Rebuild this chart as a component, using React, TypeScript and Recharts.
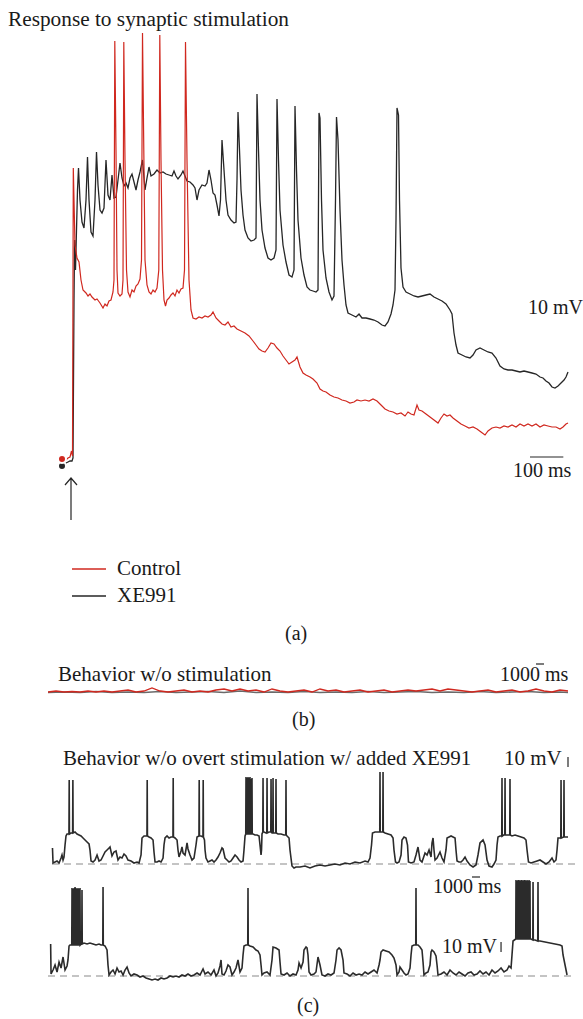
import { LineChart, Line, XAxis, YAxis, ReferenceLine } from "recharts"

type Pt = [number, number]
type Spike = [number, number, number] // time, flank voltage, peak voltage

const RED = "#d0281f"
const INK = "#262626"
const FONT = "'Liberation Serif', 'Times New Roman', serif"

// (a) response to synaptic stimulation: time in ms, membrane potential in mV
const CONTROL: Pt[] = [
  [-24, -69.4], [-18, -69.2], [-12, -69.6], [-6, -69.2], [0, -69.0], [4.5, -67.8], [7.5, -68.8], [9.9, -11.2],
  [15, -26.6], [21, -29.2], [27, -30.0], [33, -33.6], [39, -35.6], [48, -36.2], [54, -36.8], [60, -36.4],
  [66, -37.0], [75, -37.6], [81, -37.4], [90, -38.2], [99, -39.2], [105, -38.4], [111, -38.8], [117, -37.8],
  [123, -37.6], [129, -36.0], [132, -33.6], [134.4, 14.2], [138, -7.6], [141, -31.6], [144, -36.2], [150, -36.8],
  [156, -36.4], [159, -33.6], [161.4, 14.0], [165, -9.6], [169.5, -31.6], [174, -36.0], [180, -37.0], [186, -35.6],
  [192, -36.0], [198, -34.8], [204, -34.4], [210, -33.4], [214.5, -29.6], [217.5, 15.8], [221.4, -7.6], [225, -29.6],
  [231, -34.6], [237, -36.0], [243, -36.4], [249, -35.6], [255, -36.0], [261, -35.2], [266.4, -31.6], [269.4, 15.4],
  [273, -9.6], [277.5, -31.6], [282, -37.6], [286.5, -38.8], [291, -37.6], [297, -37.2], [303, -36.6], [309, -36.2],
  [315, -36.8], [321, -35.6], [327, -36.2], [333, -35.4], [339, -35.2], [343.5, -31.6], [346.5, 14.0], [351, -9.6],
  [357, -33.6], [363, -39.6], [369, -41.2], [378, -41.4], [387, -41.0], [396, -41.2], [405, -40.8], [414, -41.0],
  [423, -40.6], [429, -40.0], [438, -41.2], [447, -41.8], [456, -42.4], [465, -42.6], [474, -42.0], [483, -43.0],
  [492, -42.8], [501, -43.4], [513, -43.8], [525, -44.2], [537, -44.8], [549, -45.8], [558, -46.6], [567, -47.4],
  [576, -47.8], [585, -48.0], [594, -47.2], [603, -46.2], [612, -46.4], [621, -47.2], [630, -47.8], [639, -48.8],
  [648, -49.6], [657, -50.4], [666, -50.0], [675, -49.6], [681, -49.0], [690, -51.0], [699, -52.2], [708, -52.6],
  [720, -53.0], [729, -53.4], [741, -54.2], [750, -55.4], [759, -55.8], [768, -56.0], [780, -56.6], [792, -57.0],
  [804, -57.2], [816, -57.6], [828, -57.8], [840, -58.2], [852, -58.0], [861, -57.6], [873, -57.8], [885, -57.6],
  [897, -57.8], [909, -57.4], [921, -57.8], [933, -58.6], [945, -59.4], [957, -59.8], [969, -60.0], [981, -60.4],
  [993, -60.2], [1005, -60.8], [1014, -60.0], [1023, -60.4], [1032, -60.6], [1041, -58.6], [1047, -59.6], [1056, -59.8],
  [1068, -60.4], [1080, -61.0], [1092, -61.6], [1104, -62.2], [1113, -61.2], [1122, -60.4], [1131, -60.8], [1140, -60.6],
  [1149, -61.2], [1161, -61.8], [1173, -62.4], [1185, -62.8], [1197, -63.2], [1209, -63.0], [1221, -63.4], [1233, -64.0],
  [1245, -64.6], [1254, -63.8], [1266, -63.2], [1278, -63.0], [1290, -63.2], [1302, -62.8], [1314, -63.0], [1326, -62.6],
  [1338, -63.0], [1350, -62.4], [1362, -62.8], [1374, -62.4], [1386, -62.8], [1398, -62.4], [1410, -63.0], [1422, -62.6],
  [1434, -62.8], [1446, -63.0], [1458, -63.0], [1470, -63.4], [1479, -63.0], [1488, -62.4], [1494, -62.2],
]

const XE991: Pt[] = [
  [-24, -70.8], [-18, -70.6], [-12, -70.2], [-6, -70.0], [0, -69.8], [6, -69.8], [9, -69.2], [12, -37.6],
  [13.8, -25.6], [16.5, -31.6], [19.5, -23.6], [22.5, -15.6], [25.5, -11.2], [30, -17.6], [36, -22.0], [42, -23.2],
  [48, -17.6], [52.5, -9.0], [57, -17.6], [63, -24.0], [69, -24.8], [75, -17.6], [79.5, -8.0], [84, -14.6],
  [90, -19.6], [96, -20.2], [102, -19.2], [108, -9.6], [114, -16.6], [120, -17.6], [126, -12.6], [132, -17.2],
  [138, -17.0], [144, -13.6], [150, -10.2], [156, -13.2], [162, -14.8], [168, -14.2], [174, -15.2], [180, -13.2],
  [186, -12.4], [192, -14.0], [198, -15.6], [204, -13.6], [210, -12.0], [217.5, -9.6], [225, -15.6], [231, -13.2],
  [237, -11.0], [243, -12.8], [252, -12.4], [261, -11.6], [270, -12.2], [279, -12.0], [288, -12.4], [297, -12.6],
  [306, -12.8], [312, -11.8], [318, -12.8], [324, -13.4], [333, -12.6], [339, -11.8], [345, -12.8], [351, -13.8],
  [360, -14.0], [369, -14.6], [375, -15.2], [381, -17.6], [387, -15.6], [396, -14.6], [405, -14.8], [411, -14.2],
  [417, -11.6], [423, -13.6], [429, -16.2], [435, -16.6], [441, -18.6], [447, -20.8], [451.5, -17.6], [456, -5.6],
  [462, -11.6], [468, -17.6], [474, -20.6], [483, -21.6], [492, -22.2], [498, -22.0], [501, -13.6], [504, 0.0],
  [508.5, -7.6], [513, -15.6], [519, -20.6], [525, -23.6], [534, -25.2], [543, -25.8], [552, -25.6], [558, -25.2],
  [561, 3.6], [565.5, -7.6], [570, -17.6], [576, -23.6], [585, -27.2], [594, -29.2], [603, -29.6], [612, -29.2],
  [618, -27.6], [621, 2.6], [625.5, -9.6], [630, -19.6], [639, -26.6], [648, -30.0], [657, -32.6], [666, -33.0],
  [672, -31.6], [675, 1.2], [679.5, -11.6], [684, -21.6], [693, -29.2], [702, -32.6], [711, -35.0], [720, -35.6],
  [729, -35.8], [738, -36.0], [744, -35.6], [747, -0.2], [750, -1.2], [754.5, -17.6], [759, -27.6], [768, -33.2],
  [777, -36.0], [786, -37.6], [792, -36.8], [796.5, -17.6], [799.5, -1.0], [804, -5.6], [810, -19.6], [816, -29.6],
  [822, -34.6], [828, -38.6], [834, -40.2], [846, -40.6], [858, -41.0], [867, -40.4], [876, -41.2], [888, -41.2],
  [900, -41.4], [912, -41.6], [924, -42.0], [936, -42.6], [945, -42.8], [954, -42.0], [963, -40.4], [969, -38.6],
  [975, -35.6], [978, -21.6], [981, 0.8], [985.5, -0.6], [988.5, -17.6], [993, -31.2], [999, -35.0], [1008, -36.0],
  [1020, -36.4], [1032, -36.8], [1044, -37.0], [1056, -36.8], [1068, -36.6], [1080, -36.4], [1092, -37.0], [1104, -37.4],
  [1116, -37.8], [1128, -38.4], [1140, -39.6], [1146, -40.4], [1152, -44.2], [1158, -46.6], [1164, -48.2], [1176, -48.6],
  [1188, -49.0], [1200, -49.2], [1209, -48.6], [1218, -47.6], [1230, -47.2], [1242, -47.6], [1254, -48.0], [1266, -48.2],
  [1278, -49.2], [1290, -50.8], [1302, -51.4], [1314, -51.6], [1326, -51.6], [1338, -51.8], [1350, -52.0], [1362, -51.8],
  [1374, -52.0], [1386, -52.2], [1398, -52.4], [1410, -53.0], [1419, -53.2], [1428, -53.8], [1437, -54.2], [1446, -55.0],
  [1455, -55.2], [1464, -54.8], [1473, -54.2], [1482, -53.6], [1488, -53.0], [1494, -52.0],
]

// (b) behaviour without stimulation: time in s, mV
const QUIET_CONTROL: Pt[] = [
  [0, -70], [1, -69], [2, -70], [3, -69.5], [4, -70], [5, -69], [6, -70], [7, -69], [8, -70], [9, -69], [10, -68],
  [11, -70], [12, -69], [13, -66], [14, -69], [15, -70], [16, -69], [17, -68], [18, -70], [19, -69], [20, -70],
  [21, -68], [22, -67], [23, -69], [24, -67], [25, -69], [26, -68], [27, -70], [28, -67], [29, -69], [30, -70],
  [31, -69], [32, -68], [33, -70], [34, -67], [35, -69], [36, -68], [37, -70], [38, -69], [39, -68], [40, -70],
  [41, -69], [42, -68], [43, -70], [44, -69], [45, -68], [46, -69], [47, -68], [48, -67], [49, -69], [50, -67],
  [51, -68], [52, -69], [53, -70], [54, -69], [55, -68], [56, -70], [57, -69], [58, -68], [59, -70], [60, -69],
  [61, -67], [62, -69], [63, -70], [64, -68], [65, -69],
]
const QUIET_XE991: Pt[] = [
  [0, -70.5], [2, -70], [4, -70.5], [6, -69.5], [8, -70.5], [10, -70], [12, -70.5], [14, -69.5], [16, -70.5],
  [18, -70], [20, -69.5], [22, -70.5], [24, -69], [26, -70.5], [28, -70], [30, -70.5], [32, -69.5], [34, -70.5],
  [36, -70], [38, -70.5], [40, -69.5], [42, -70.5], [44, -70], [46, -69.5], [48, -70.5], [50, -70], [52, -70.5],
  [54, -69.5], [56, -70.5], [58, -70], [60, -69.5], [62, -70.5], [64, -70], [65, -70.5],
]

// (c) behaviour with XE991, first sweep: time in s, mV
const SWEEP1: Pt[] = [
  [0.56, -54], [0.63, -69], [0.88, -68], [1.13, -67], [1.38, -69], [1.63, -64], [1.75, -61], [1.88, -66], [2.0, -63],
  [2.13, -51], [2.25, -42], [2.38, -40], [2.88, -39], [3.38, -38], [3.63, -40], [3.88, -41], [4.13, -42], [4.38, -44],
  [4.63, -46], [4.88, -48], [5.13, -50], [5.25, -56], [5.38, -67], [5.63, -68], [5.88, -66], [6.13, -61], [6.38, -67],
  [6.63, -66], [6.88, -62], [7.13, -58], [7.38, -56], [7.63, -54], [7.75, -53], [8.0, -62], [8.25, -58], [8.5, -57],
  [8.75, -66], [9.0, -63], [9.25, -64], [9.5, -60], [9.75, -62], [10.0, -66], [10.38, -67], [10.75, -69], [11.13, -68],
  [11.38, -69], [11.63, -61], [11.75, -44], [12.0, -42], [12.63, -43], [12.88, -44], [13.13, -46], [13.25, -58],
  [13.38, -68], [13.63, -68], [13.88, -67], [14.13, -68], [14.38, -64], [14.5, -51], [14.63, -44], [14.88, -42],
  [15.13, -44], [15.38, -43], [15.88, -44], [16.13, -46], [16.25, -56], [16.38, -63], [16.63, -57], [16.75, -53],
  [16.88, -59], [17.13, -61], [17.38, -49], [17.5, -55], [17.75, -61], [18.0, -66], [18.25, -64], [18.5, -51],
  [18.63, -43], [19.13, -42], [19.56, -46], [19.63, -56], [19.75, -64], [20.0, -68], [20.25, -67], [20.5, -66],
  [20.75, -68], [21.0, -66], [21.25, -63], [21.5, -59], [21.75, -54], [21.88, -55], [22.13, -64], [22.38, -66],
  [22.63, -68], [22.88, -67], [23.13, -64], [23.38, -61], [23.63, -63], [23.88, -66], [24.13, -68], [24.38, -67],
  [24.5, -56], [24.63, -42], [25.63, -40], [25.88, -41], [26.13, -41], [26.38, -42], [26.5, -51], [26.63, -61],
  [26.69, -56], [26.75, -40], [27.0, -38], [27.25, -39], [27.63, -38], [28.0, -39], [28.38, -39], [28.75, -40],
  [29.13, -40], [29.5, -41], [29.88, -42], [30.13, -44], [30.25, -56], [30.5, -72], [30.75, -74], [31.0, -73],
  [31.5, -73], [32.13, -72], [32.75, -74], [33.38, -72], [34.0, -71], [34.63, -72], [35.25, -71], [35.88, -70],
  [36.5, -71], [37.13, -69], [37.75, -70], [38.38, -68], [39.0, -69], [39.63, -67], [40.0, -68], [40.25, -64],
  [40.44, -51], [40.56, -39], [40.88, -38], [41.25, -38], [42.13, -39], [42.5, -40], [42.88, -41], [43.13, -44],
  [43.25, -56], [43.44, -68], [43.63, -69], [43.88, -68], [44.13, -61], [44.25, -46], [44.5, -43], [44.75, -44],
  [44.94, -51], [45.06, -68], [45.38, -69], [45.75, -68], [46.0, -61], [46.25, -53], [46.5, -66], [46.75, -68],
  [47.13, -59], [47.38, -61], [47.63, -56], [47.88, -63], [48.0, -49], [48.13, -44], [48.25, -56], [48.38, -66],
  [48.63, -64], [49.0, -58], [49.25, -64], [49.5, -68], [49.75, -56], [49.88, -44], [50.13, -43], [50.38, -42],
  [50.63, -43], [50.88, -44], [51.0, -56], [51.13, -67], [51.38, -68], [51.63, -68], [51.88, -66], [52.13, -63],
  [52.38, -67], [52.75, -71], [53.13, -73], [53.5, -71], [53.75, -61], [54.0, -49], [54.38, -46], [54.63, -51],
  [54.88, -66], [55.13, -72], [55.5, -73], [55.75, -70], [56.0, -66], [56.13, -51], [56.25, -43], [56.5, -42],
  [56.94, -41], [57.38, -41], [58.0, -42], [58.38, -41], [58.75, -42], [59.13, -43], [59.5, -44], [59.75, -46],
  [59.88, -56], [60.06, -68], [60.38, -69], [60.75, -68], [61.13, -67], [61.5, -66], [61.88, -68], [62.25, -70],
  [62.63, -68], [63.0, -64], [63.25, -68], [63.5, -66], [63.63, -56], [63.75, -44], [64.75, -43], [65.0, -43],
]
const SWEEP1_SPIKES: Spike[] = [
  [2.65, -40, 14], [3.11, -39, 14], [12.4, -42, 14], [15.65, -43, 16], [18.9, -42, 14], [19.4, -43, 14],
  [24.75, -40, 17], [24.88, -40, 16], [25.0, -40, 17], [25.13, -40, 16], [25.25, -40, 17], [25.38, -40, 15],
  [25.5, -40, 16], [26.88, -38, 16], [27.38, -39, 16], [27.88, -38, 15], [28.13, -39, 16], [28.5, -39, 15],
  [29.75, -41, 14], [41.5, -38, 22], [41.88, -38, 22], [56.75, -42, 16], [57.13, -41, 16], [57.75, -41, 15],
  [64.13, -44, 14], [64.5, -43, 14],
]

// (c) second sweep
const SWEEP2: Pt[] = [
  [0.33, -38], [0.38, -68], [0.63, -64], [0.88, -59], [1.13, -66], [1.38, -56], [1.63, -62], [1.88, -51], [2.13, -64],
  [2.38, -60], [2.5, -54], [2.63, -40], [2.75, -39], [4.13, -38], [4.5, -37], [4.88, -38], [5.25, -37], [5.63, -38],
  [6.0, -39], [6.38, -38], [6.63, -39], [7.13, -40], [7.38, -44], [7.5, -59], [7.63, -69], [7.88, -66], [8.13, -64],
  [8.38, -68], [8.63, -62], [8.88, -66], [9.13, -65], [9.38, -69], [9.63, -64], [9.88, -61], [10.13, -67], [10.38, -70],
  [10.75, -68], [11.13, -69], [11.5, -71], [11.88, -70], [12.25, -72], [12.63, -73], [13.0, -74], [13.38, -73],
  [13.75, -74], [14.13, -72], [14.5, -73], [14.88, -72], [15.25, -70], [15.63, -71], [16.0, -70], [16.38, -71],
  [16.75, -69], [17.13, -70], [17.5, -68], [17.88, -70], [18.25, -69], [18.63, -67], [19.0, -69], [19.38, -63],
  [19.63, -68], [20.0, -66], [20.38, -69], [20.75, -64], [21.0, -70], [21.25, -67], [21.5, -60], [21.63, -54],
  [21.75, -68], [22.0, -69], [22.25, -65], [22.5, -59], [22.75, -61], [23.0, -69], [23.25, -66], [23.5, -62],
  [23.75, -54], [24.0, -66], [24.25, -62], [24.38, -49], [24.5, -40], [24.75, -39], [25.25, -40], [25.63, -41],
  [26.0, -44], [26.25, -45], [26.5, -49], [26.63, -59], [26.75, -69], [27.0, -67], [27.38, -66], [27.75, -69],
  [28.0, -54], [28.13, -41], [28.5, -42], [28.88, -44], [29.0, -56], [29.13, -68], [29.5, -69], [29.88, -67],
  [30.25, -70], [30.63, -68], [31.0, -69], [31.25, -64], [31.38, -57], [31.63, -62], [31.88, -56], [32.0, -44],
  [32.25, -41], [32.38, -42], [32.5, -49], [32.63, -66], [32.88, -69], [33.25, -68], [33.5, -66], [33.75, -51],
  [34.0, -59], [34.25, -69], [34.63, -70], [35.0, -68], [35.38, -69], [35.75, -67], [36.0, -54], [36.13, -44],
  [36.38, -42], [36.63, -44], [36.88, -54], [37.0, -67], [37.38, -68], [37.75, -70], [38.13, -67], [38.5, -69],
  [38.88, -68], [39.25, -69], [39.63, -66], [40.0, -68], [40.38, -66], [40.75, -64], [41.13, -67], [41.38, -59],
  [41.5, -54], [41.63, -46], [41.88, -44], [42.25, -45], [42.63, -46], [43.0, -49], [43.25, -52], [43.5, -59],
  [43.63, -69], [43.88, -66], [44.0, -61], [44.25, -64], [44.5, -67], [44.75, -69], [45.0, -68], [45.25, -62],
  [45.38, -49], [45.5, -40], [45.75, -39], [46.25, -39], [46.5, -41], [46.75, -44], [46.88, -56], [47.0, -69],
  [47.25, -67], [47.5, -66], [47.75, -59], [47.88, -46], [48.0, -44], [48.25, -46], [48.5, -50], [48.63, -59],
  [48.75, -69], [49.13, -68], [49.5, -66], [49.88, -69], [50.25, -64], [50.63, -67], [51.0, -69], [51.38, -66],
  [51.75, -68], [52.13, -70], [52.5, -67], [52.88, -66], [53.25, -69], [53.63, -68], [54.0, -65], [54.38, -68],
  [54.75, -66], [55.13, -69], [55.5, -64], [55.88, -67], [56.25, -65], [56.63, -62], [57.0, -66], [57.38, -64],
  [57.63, -60], [57.88, -62], [58.0, -49], [58.13, -35], [60.38, -33], [60.88, -34], [61.5, -35], [62.13, -36],
  [62.75, -37], [63.38, -38], [64.0, -39], [64.25, -40], [64.38, -49], [64.63, -59], [64.88, -69],
]
const SWEEP2_SPIKES: Spike[] = [
  [3.0, -39, 18], [3.13, -39, 17], [3.25, -39, 18], [3.38, -39, 19], [3.5, -39, 18], [3.63, -39, 17],
  [3.75, -39, 18], [3.88, -39, 17], [4.0, -39, 18], [4.25, -38, 16], [6.88, -39, 19], [25.0, -39, 18],
  [46.0, -39, 18], [58.5, -33, 26], [58.63, -33, 25], [58.75, -33, 26], [58.88, -33, 26], [59.0, -33, 25],
  [59.13, -33, 26], [59.25, -33, 26], [59.38, -33, 25], [59.5, -33, 26], [59.63, -33, 26], [59.75, -33, 25],
  [59.88, -33, 26], [60.0, -33, 25], [60.13, -33, 26], [60.25, -33, 25], [60.63, -34, 24], [61.25, -35, 24],
]

const toRows = (pts: Pt[]) => pts.map(([t, v]) => ({ t, v }))

function withSpikes(trace: Pt[], spikes: Spike[]) {
  const pts: Pt[] = [...trace]
  spikes.forEach(([t, base, peak]) => {
    pts.push([t - 0.03, base], [t, peak], [t + 0.03, base])
  })
  pts.sort((a, b) => a[0] - b[0])
  return toRows(pts)
}

const noMargin = { top: 0, right: 0, bottom: 0, left: 0 }

function Label({ x, y, size = 20, children }: { x: number; y: number; size?: number; children: string }) {
  return (
    <text x={x} y={y} fontFamily={FONT} fontSize={size} fill="#1a1a1a">
      {children}
    </text>
  )
}

export default function App() {
  const control = toRows(CONTROL)
  const xe = toRows(XE991)
  const sweep1 = withSpikes(SWEEP1, SWEEP1_SPIKES)
  const sweep2 = withSpikes(SWEEP2, SWEEP2_SPIKES)

  return (
    <div style={{ position: "absolute", left: 0, top: 0, width: 583, height: 1019, background: "#fff", overflow: "hidden" }}>
      {/* (a) */}
      <div style={{ position: "absolute", left: 0, top: 0 }}>
        <LineChart width={583} height={520} margin={noMargin}>
          <XAxis type="number" dataKey="t" domain={[-210, 1539]} hide allowDataOverflow />
          <YAxis type="number" domain={[-81.6, 22.4]} hide allowDataOverflow />
          <ReferenceLine segment={[{ x: 1380, y: -69 }, { x: 1480, y: -69 }]} stroke={INK} strokeWidth={1.2} ifOverflow="visible" />
          <Line data={xe} dataKey="v" type="linear" stroke={INK} strokeWidth={1.3} dot={false} isAnimationActive={false} />
          <Line data={control} dataKey="v" type="linear" stroke={RED} strokeWidth={1.2} dot={false} isAnimationActive={false} />
        </LineChart>
      </div>

      {/* (b) */}
      <div style={{ position: "absolute", left: 0, top: 650 }}>
        <LineChart width={583} height={70} margin={noMargin}>
          <XAxis type="number" dataKey="t" domain={[-6, 66.875]} hide allowDataOverflow />
          <YAxis type="number" domain={[-98, -28]} hide allowDataOverflow />
          <ReferenceLine segment={[{ x: 61, y: -42 }, { x: 62, y: -42 }]} stroke={INK} strokeWidth={1.2} ifOverflow="visible" />
          <Line data={toRows(QUIET_XE991)} dataKey="v" type="linear" stroke="#6a6a6a" strokeWidth={1.6} dot={false} isAnimationActive={false} />
          <Line data={toRows(QUIET_CONTROL)} dataKey="v" type="linear" stroke={RED} strokeWidth={1.3} dot={false} isAnimationActive={false} />
        </LineChart>
      </div>

      {/* (c) first sweep */}
      <div style={{ position: "absolute", left: 0, top: 740 }}>
        <LineChart width={583} height={140} margin={noMargin}>
          <XAxis type="number" dataKey="t" domain={[-6, 66.875]} hide allowDataOverflow />
          <YAxis type="number" domain={[-86, 54]} hide allowDataOverflow />
          <ReferenceLine segment={[{ x: 0.5, y: -70 }, { x: 66.1, y: -70 }]} stroke="#8a8a8a" strokeWidth={1.2} strokeDasharray="7 5" ifOverflow="visible" />
          <ReferenceLine segment={[{ x: 65, y: 27 }, { x: 65, y: 37 }]} stroke={INK} strokeWidth={1.2} ifOverflow="visible" />
          <Line data={sweep1} dataKey="v" type="linear" stroke="#2b2b2b" strokeWidth={1.6} dot={false} isAnimationActive={false} />
        </LineChart>
      </div>

      {/* (c) second sweep */}
      <div style={{ position: "absolute", left: 0, top: 870 }}>
        <LineChart width={583} height={130} margin={noMargin}>
          <XAxis type="number" dataKey="t" domain={[-6, 66.875]} hide allowDataOverflow />
          <YAxis type="number" domain={[-94, 36]} hide allowDataOverflow />
          <ReferenceLine segment={[{ x: 0, y: -70 }, { x: 65.6, y: -70 }]} stroke="#8a8a8a" strokeWidth={1.2} strokeDasharray="7 5" ifOverflow="visible" />
          <ReferenceLine segment={[{ x: 53, y: 29 }, { x: 54, y: 29 }]} stroke={INK} strokeWidth={1.2} ifOverflow="visible" />
          <ReferenceLine segment={[{ x: 56.63, y: -46 }, { x: 56.63, y: -36 }]} stroke={INK} strokeWidth={1.2} ifOverflow="visible" />
          <Line data={sweep2} dataKey="v" type="linear" stroke="#2b2b2b" strokeWidth={1.6} dot={false} isAnimationActive={false} />
        </LineChart>
      </div>

      {/* labels, legend and stimulus arrow */}
      <svg width={583} height={1019} style={{ position: "absolute", left: 0, top: 0, pointerEvents: "none" }}>
        <Label x={8} y={26} size={21.3}>Response to synaptic stimulation</Label>
        <Label x={528} y={314}>10 mV</Label>
        <Label x={513} y={477}>100 ms</Label>
        <path d="M71 520 L71 478 M65 485 L71 478 L77 485" stroke={INK} strokeWidth={1.2} fill="none" />
        <line x1={72} y1={569} x2={106} y2={569} stroke={RED} strokeWidth={1.3} />
        <Label x={117} y={575} size={21}>Control</Label>
        <line x1={72} y1={596} x2={106} y2={596} stroke={INK} strokeWidth={1.3} />
        <Label x={117} y={602} size={21}>XE991</Label>
        <Label x={285} y={640}>(a)</Label>

        <Label x={58} y={681} size={21}>Behavior w/o stimulation</Label>
        <Label x={500} y={681}>1000 ms</Label>
        <Label x={292} y={726}>(b)</Label>

        <Label x={63} y={765} size={21}>Behavior w/o overt stimulation w/ added XE991</Label>
        <Label x={504} y={765} size={21}>10 mV</Label>
        <Label x={433} y={893}>1000 ms</Label>
        <Label x={442} y={953}>10 mV</Label>
        <Label x={297} y={1012}>(c)</Label>
      </svg>
    </div>
  )
}
